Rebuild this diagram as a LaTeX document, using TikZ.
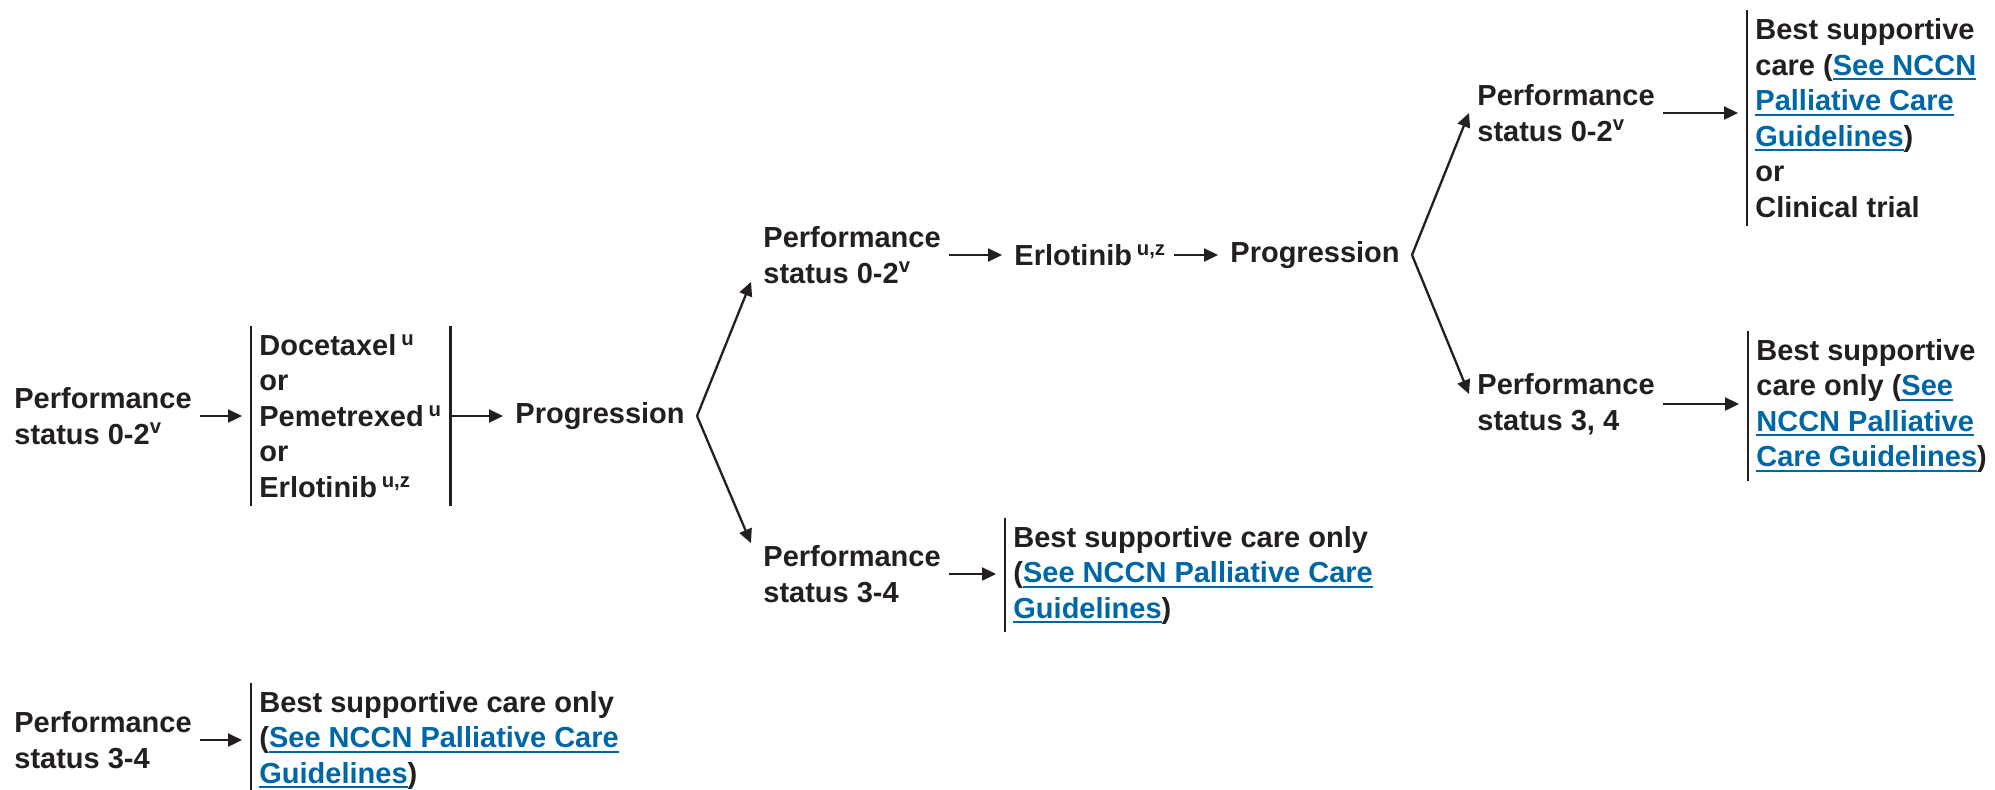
\documentclass[tikz,border=0pt]{standalone}
\usepackage{fontspec}
\setmainfont{Liberation Sans}
\usetikzlibrary{arrows.meta, calc, positioning}
\definecolor{ink}{HTML}{231F20}
\definecolor{linkblue}{HTML}{0067A6}
\tikzset{
    txtNode/.style={align=left, anchor=west, inner xsep=4pt, inner ysep=1pt, text=ink, font=\fontsize{14.5}{17.75}\selectfont\bfseries},
    optBox/.style={txtNode, inner ysep=4pt},
    flowEdge/.style={->, >={Triangle[length=7pt, width=6.5pt]}, line width=1.15pt, draw=ink, shorten >=2pt},
    barEdge/.style={flowEdge, shorten >=4.5pt},
    forkEdge/.style={flowEdge, shorten >=0pt},
    barLine/.style={draw=ink, line width=1.1pt},
}
\newsavebox{\nccnBox}
\newcommand{\nccn}[1]{%
    \sbox{\nccnBox}{\color{linkblue}#1}%
    {\color{linkblue}\rlap{\rule[-2.6pt]{\wd\nccnBox}{1pt}}}\usebox{\nccnBox}%
}
\newcommand{\drawStep}[3][flowEdge]{
    \draw[#1] (#2.east) -- (#2.east -| #3.west);
}
\newcommand{\drawBar}[1]{
    \draw[barLine] (#1.north west) -- (#1.south west);
}
\begin{document}
\begin{tikzpicture}[x=0.5pt, y=-0.5pt]
    \useasboundingbox (0, 0) rectangle (1995, 789);

    \node[txtNode] (ps1) at (6, 416) {Performance\\status 0-2\textsuperscript{v}};
    \node[optBox] (drugs) at (251, 416) {Docetaxel\,\textsuperscript{u}\\or\\Pemetrexed\,\textsuperscript{u}\\or\\Erlotinib\,\textsuperscript{u,z}};
    \node[txtNode] (prog1) at (507, 416) {Progression};
    \coordinate (fork1) at ([xshift=2pt]prog1.east);

    \node[txtNode] (ps2) at (755, 255) {Performance\\status 0-2\textsuperscript{v}};
    \node[txtNode] (erl) at (1006, 255) {Erlotinib\,\textsuperscript{u,z}};
    \node[txtNode] (prog2) at (1222, 255) {Progression};
    \coordinate (fork2) at ([xshift=2pt]prog2.east);

    \node[txtNode] (ps3) at (1469, 113) {Performance\\status 0-2\textsuperscript{v}};
    \node[optBox] (bsc3) at (1747, 118) {Best supportive\\care (\nccn{See NCCN}\\\nccn{Palliative Care}\\\nccn{Guidelines})\\or\\Clinical trial};
    \node[txtNode] (ps4) at (1469, 404) {Performance\\status 3, 4};
    \node[optBox] (bsc4) at (1748, 406) {Best supportive\\care only (\nccn{See}\\\nccn{NCCN Palliative}\\\nccn{Care Guidelines})};

    \node[txtNode] (ps5) at (755, 574) {Performance\\status 3-4};
    \node[optBox] (bsc5) at (1005, 575) {Best supportive care only\\(\nccn{See NCCN Palliative Care}\\\nccn{Guidelines})};

    \node[txtNode] (ps6) at (6, 740) {Performance\\status 3-4};
    \node[optBox] (bsc6) at (251, 740) {Best supportive care only\\(\nccn{See NCCN Palliative Care}\\\nccn{Guidelines})};

    \drawBar{drugs}
    \draw[barLine] (drugs.north east) -- (drugs.south east);
    \drawBar{bsc3}
    \drawBar{bsc4}
    \drawBar{bsc5}
    \drawBar{bsc6}

    \drawStep[barEdge]{ps1}{drugs}
    \drawStep{drugs}{prog1}
    \drawStep{ps2}{erl}
    \drawStep{erl}{prog2}
    \drawStep[barEdge]{ps3}{bsc3}
    \drawStep[barEdge]{ps4}{bsc4}
    \drawStep[barEdge]{ps5}{bsc5}
    \drawStep[barEdge]{ps6}{bsc6}

    \draw[forkEdge] (fork1) -- ([xshift=-2pt, yshift=2pt]ps2.south west);
    \draw[forkEdge] (fork1) -- ([xshift=-2pt]ps5.north west);
    \draw[forkEdge] (fork2) -- (ps3.west);
    \draw[forkEdge] (fork2) -- ([yshift=5pt]ps4.west);

\end{tikzpicture}
\end{document}
